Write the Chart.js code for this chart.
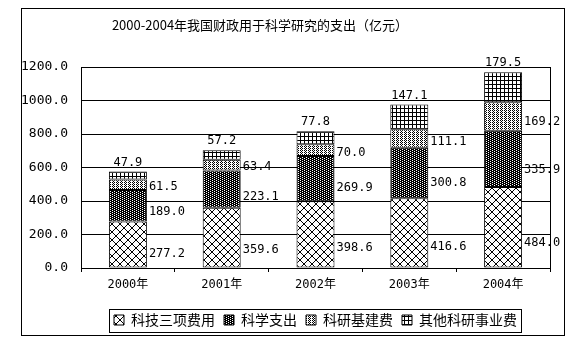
<!DOCTYPE html>
<html>
<head>
<meta charset="utf-8">
<script src="https://cdn.jsdelivr.net/npm/chart.js@4.4.1/dist/chart.umd.min.js"></script>
<style>
  html, body { margin: 0; padding: 0; background: #fff; }
</style>
</head>
<body>
<canvas id="kyChart" width="580" height="350"></canvas>
<script>
// 2000-2004年财政科研支出（亿元）
const years = ['2000年', '2001年', '2002年', '2003年', '2004年'];
const sanXiang = [277.2, 359.6, 398.6, 416.6, 484.0];
const kexueZhichu = [189.0, 223.1, 269.9, 300.8, 335.9];
const jiJian = [61.5, 63.4, 70.0, 111.1, 169.2];
const qiTa = [47.9, 57.2, 77.8, 147.1, 179.5];
const seriesNames = ['科技三项费用', '科学支出', '科研基建费', '其他科研事业费'];
const yTicks = [0, 200, 400, 600, 800, 1000, 1200];

const titleText = '2000-2004年我国财政用于科学研究的支出（亿元）';
const numFont = '"DejaVu Sans Mono", monospace';
const cjkFont = '"Noto Sans CJK SC", sans-serif';

// 小图块做黑白填充纹理
function tile(w, h, draw) {
  const c = document.createElement('canvas');
  c.width = w; c.height = h;
  const g = c.getContext('2d');
  draw(g);
  return g.createPattern(c, 'repeat');
}
function px(g, color, pts) {
  g.fillStyle = color;
  pts.forEach(p => g.fillRect(p[0], p[1], 1, 1));
}

const crossHatch = tile(8, 8, g => {
  g.fillStyle = '#fff'; g.fillRect(0, 0, 8, 8);
  for (let i = 0; i < 8; i++) px(g, '#000', [[i, i], [7 - i, i]]);
});
const darkDots = tile(4, 2, g => {
  g.fillStyle = '#000'; g.fillRect(0, 0, 4, 2);
  px(g, '#fff', [[0, 0], [2, 1]]);
});
const lightDots = tile(4, 2, g => {
  g.fillStyle = '#fff'; g.fillRect(0, 0, 4, 2);
  px(g, '#000', [[0, 0], [2, 0], [1, 1]]);
});
const squareGrid = tile(4, 4, g => {
  g.fillStyle = '#fff'; g.fillRect(0, 0, 4, 4);
  g.fillStyle = '#000'; g.fillRect(0, 0, 4, 1); g.fillRect(0, 0, 1, 4);
});

// 数值标签：下面三段写在柱右侧，最上一段写在柱顶
const valueLabels = {
  id: 'valueLabels',
  afterDatasetsDraw(chart) {
    const ctx = chart.ctx;
    const last = chart.data.datasets.length - 1;
    ctx.save();
    ctx.font = '12px ' + numFont;
    ctx.fillStyle = '#000';
    chart.data.datasets.forEach((ds, di) => {
      chart.getDatasetMeta(di).data.forEach((bar, i) => {
        const p = bar.getProps(['x', 'y', 'base', 'width'], true);
        const text = ds.data[i].toFixed(1);
        if (di === last) {
          ctx.textAlign = 'center';
          ctx.textBaseline = 'bottom';
          ctx.fillText(text, p.x, p.y - 3);
        } else {
          ctx.textAlign = 'left';
          ctx.textBaseline = 'middle';
          ctx.fillText(text, p.x + p.width / 2 + 2, p.base - (p.base - p.y) * 0.3);
        }
      });
    });
    ctx.restore();
  }
};

// 白底、外框、绘图区边框、标题、图例框
const frame = {
  id: 'frame',
  beforeDraw(chart) {
    const ctx = chart.ctx;
    ctx.save();
    ctx.fillStyle = '#fff';
    ctx.fillRect(0, 0, chart.width, chart.height);
    ctx.restore();
  },
  afterDraw(chart) {
    const ctx = chart.ctx;
    const a = chart.chartArea;
    ctx.save();
    ctx.strokeStyle = '#000';
    ctx.lineWidth = 1;
    ctx.strokeRect(21.5, 8.5, 543, 327);
    ctx.strokeRect(Math.round(a.left) + 0.5, Math.round(a.top) + 0.5,
      Math.round(a.right - a.left), Math.round(a.bottom - a.top));

    ctx.font = '13px ' + cjkFont;
    ctx.fillStyle = '#000';
    ctx.textAlign = 'center';
    ctx.textBaseline = 'middle';
    ctx.fillText(titleText, 260, 25);

    const boxes = chart.legend.legendHitBoxes;
    if (boxes && boxes.length) {
      const l = Math.min(...boxes.map(b => b.left)) - 5;
      const r = Math.max(...boxes.map(b => b.left + b.width)) + 4;
      const t = boxes[0].top - 4;
      const b = boxes[0].top + boxes[0].height + 5;
      ctx.strokeRect(Math.round(l) + 0.5, Math.round(t) + 0.5, Math.round(r - l), Math.round(b - t));
    }
    ctx.restore();
  }
};

const fills = [crossHatch, darkDots, lightDots, squareGrid];
const values = [sanXiang, kexueZhichu, jiJian, qiTa];

new Chart(document.getElementById('kyChart'), {
  type: 'bar',
  data: {
    labels: years,
    datasets: seriesNames.map((name, i) => ({
      label: name,
      data: values[i],
      backgroundColor: fills[i],
      borderColor: '#000',
      borderWidth: 1,
      borderSkipped: false,
      barPercentage: 0.405,
      categoryPercentage: 1
    }))
  },
  options: {
    responsive: false,
    animation: false,
    events: [],
    layout: { padding: { top: 67, right: 30, bottom: 13, left: 0 } },
    scales: {
      x: {
        stacked: true,
        afterFit: s => { s.height = 36; },
        grid: { offset: true, drawOnChartArea: false, color: '#000', tickLength: 4 },
        border: { color: '#000' },
        ticks: { color: '#000', padding: 6, font: { family: numFont + ',' + cjkFont, size: 12 } }
      },
      y: {
        stacked: true,
        min: 0,
        max: 1200,
        afterBuildTicks: s => { s.ticks = yTicks.map(v => ({ value: v })); },
        afterFit: s => { s.width = 81; },
        grid: { color: '#000', drawTicks: false },
        border: { color: '#000' },
        ticks: {
          color: '#000',
          padding: 13,
          font: { family: numFont, size: 13 },
          callback: v => Number(v).toFixed(1)
        }
      }
    },
    plugins: {
      legend: {
        position: 'bottom',
        fullSize: false,
        labels: {
          color: '#000',
          boxWidth: 10,
          boxHeight: 10,
          padding: 9,
          font: { family: cjkFont, size: 14 }
        }
      },
      title: { display: false },
      tooltip: { enabled: false }
    }
  },
  plugins: [valueLabels, frame]
});
</script>
</body>
</html>
